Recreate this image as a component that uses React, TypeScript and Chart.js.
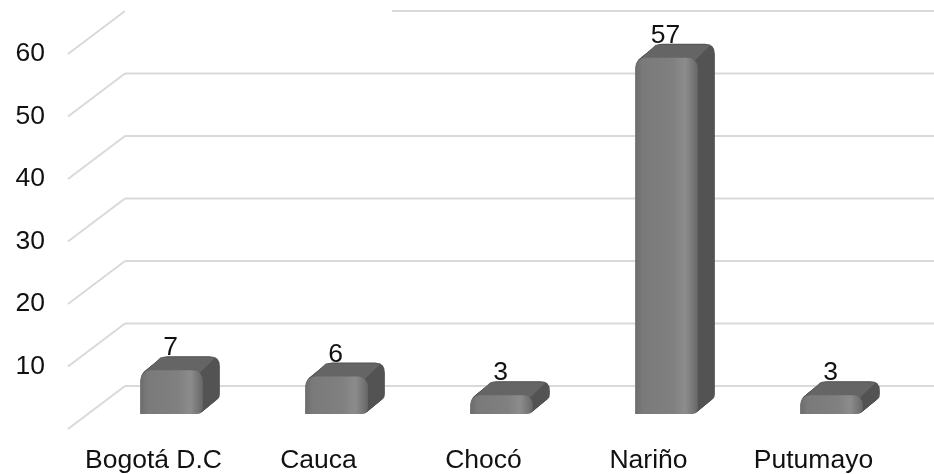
import { useEffect, useRef } from 'react';
import { Chart, registerables } from 'chart.js';

Chart.register(...registerables);

const categories = ['Bogotá D.C', 'Cauca', 'Chocó', 'Nariño', 'Putumayo'];
const values = [7, 6, 3, 57, 3];
const yTickValues = [0, 10, 20, 30, 40, 50, 60];

const FONT = '"Liberation Sans", Arial, sans-serif';
const FONT_SIZE = 26.5;
const TEXT_COLOR = '#111111';
const GRID_COLOR = '#d9d9d9';

// 3D geometry (pixels)
const DEPTH_X = 17;
const DEPTH_Y = -14;
const WALL_X = 36;
const WALL_Y = -28;
const FRONT_X = -21;
const FRONT_Y = 15;
const TOP_LINE_START = 392;

function roundRectPath(ctx: CanvasRenderingContext2D, x: number, y: number, w: number, h: number, rt: number, rb: number) {
  ctx.beginPath();
  ctx.moveTo(x + rt, y);
  ctx.lineTo(x + w - rt, y);
  ctx.quadraticCurveTo(x + w, y, x + w, y + rt);
  ctx.lineTo(x + w, y + h - rb);
  ctx.quadraticCurveTo(x + w, y + h, x + w - rb, y + h);
  ctx.lineTo(x, y + h);
  ctx.lineTo(x, y + rt);
  ctx.quadraticCurveTo(x, y, x + rt, y);
  ctx.closePath();
}

const threeDPlugin = {
  id: 'threeD',
  beforeDatasetsDraw(chart: any) {
    const ctx: CanvasRenderingContext2D = chart.ctx;
    const yScale = chart.scales.y;
    const area = chart.chartArea;
    ctx.save();
    ctx.strokeStyle = GRID_COLOR;
    ctx.lineWidth = 2;
    yTickValues.forEach((v) => {
      const py = yScale.getPixelForValue(v);
      const bx = area.left + WALL_X;
      const by = py + WALL_Y;
      ctx.beginPath();
      ctx.moveTo(area.left + FRONT_X, py + FRONT_Y);
      ctx.lineTo(bx, by);
      ctx.stroke();
      ctx.beginPath();
      ctx.moveTo(v === 60 ? TOP_LINE_START : bx, by);
      ctx.lineTo(chart.width, by);
      ctx.stroke();
    });

    const meta = chart.getDatasetMeta(0);
    meta.data.forEach((bar: any) => {
      const { x, y, base, width } = bar.getProps(['x', 'y', 'base', 'width'], true);
      const xl = x - width / 2;
      const h = base - y;
      const rt = Math.min(10, h / 2);
      const rb = Math.min(6, h / 2);
      ctx.fillStyle = '#535353';
      const steps = 24;
      for (let i = 1; i <= steps; i++) {
        const t = i / steps;
        roundRectPath(ctx, xl + DEPTH_X * t, y + DEPTH_Y * t, width, h, rt, rb);
        ctx.fill();
      }
      ctx.fillStyle = '#656565';
      ctx.beginPath();
      ctx.moveTo(xl + rt * 0.35, y + rt * 0.35);
      ctx.lineTo(xl + rt * 0.35 + DEPTH_X, y + DEPTH_Y + rt * 0.1);
      ctx.lineTo(xl + width - rt * 0.4 + DEPTH_X, y + DEPTH_Y + rt * 0.1);
      ctx.lineTo(xl + width - rt * 0.4, y + rt * 0.35);
      ctx.closePath();
      ctx.fill();
    });
    ctx.restore();
  },
  afterDatasetsDraw(chart: any) {
    const ctx: CanvasRenderingContext2D = chart.ctx;
    const meta = chart.getDatasetMeta(0);
    ctx.save();
    ctx.font = `${FONT_SIZE}px ${FONT}`;
    ctx.fillStyle = TEXT_COLOR;
    ctx.textAlign = 'center';
    ctx.textBaseline = 'alphabetic';
    meta.data.forEach((bar: any, i: number) => {
      const { x, y } = bar.getProps(['x', 'y'], true);
      ctx.fillText(String(values[i]), x - 1, y - 15);
    });
    ctx.restore();
  },
};

export default function App() {
  const ref = useRef<HTMLCanvasElement | null>(null);
  useEffect(() => {
    if (!ref.current) return;
    const chart = new Chart(ref.current, {
      type: 'bar',
      data: {
        labels: categories,
        datasets: [
          {
            data: values,
            backgroundColor: (c: any) => {
              const ch = c.chart;
              const xs = ch.scales && ch.scales.x;
              if (!xs || c.dataIndex === undefined) return '#7a7a7a';
              const cx = xs.getPixelForValue(c.dataIndex);
              const w = (xs.width / categories.length) * 0.38;
              if (!isFinite(cx) || !isFinite(w) || w <= 0) return '#7a7a7a';
              const g = ch.ctx.createLinearGradient(cx - w / 2, 0, cx + w / 2, 0);
              g.addColorStop(0, '#6c6c6c');
              g.addColorStop(0.12, '#7a7a7a');
              g.addColorStop(0.6, '#808080');
              g.addColorStop(0.8, '#8c8c8c');
              g.addColorStop(0.9, '#7a7a7a');
              g.addColorStop(1, '#676767');
              return g;
            },
            borderWidth: 0,
            borderSkipped: false,
            borderRadius: { topLeft: 10, topRight: 10, bottomLeft: 0, bottomRight: 6 },
            categoryPercentage: 1,
            barPercentage: 0.38,
          },
        ],
      },
      options: {
        animation: false,
        responsive: true,
        maintainAspectRatio: false,
        events: [],
        layout: { padding: { top: 39, right: 20, left: 0, bottom: 0 } },
        plugins: { legend: { display: false }, tooltip: { enabled: false } },
        scales: {
          x: {
            grid: { display: false, drawTicks: false },
            border: { display: false },
            ticks: {
              font: { family: FONT, size: FONT_SIZE },
              color: TEXT_COLOR,
              padding: 31,
              labelOffset: -18,
              maxRotation: 0,
              autoSkip: false,
            },
            afterFit(s: any) {
              s.height = 60;
              s.paddingLeft = 0;
              s.paddingRight = 0;
            },
          },
          y: {
            min: 0,
            max: 60,
            grid: { display: false, drawTicks: false },
            border: { display: false },
            ticks: {
              stepSize: 10,
              callback: (v: any) => (Number(v) === 0 ? '' : String(v)),
              font: { family: FONT, size: FONT_SIZE },
              color: TEXT_COLOR,
              padding: 44,
              labelOffset: 15,
            },
            afterFit(s: any) {
              s.width = 89;
              s.paddingTop = 0;
              s.paddingBottom = 0;
            },
          },
        },
      },
      plugins: [threeDPlugin],
    });
    return () => chart.destroy();
  }, []);
  return (
    <div style={{ position: 'fixed', left: 0, top: 0, width: 934, height: 474, background: '#fff' }}>
      <canvas ref={ref} />
    </div>
  );
}
